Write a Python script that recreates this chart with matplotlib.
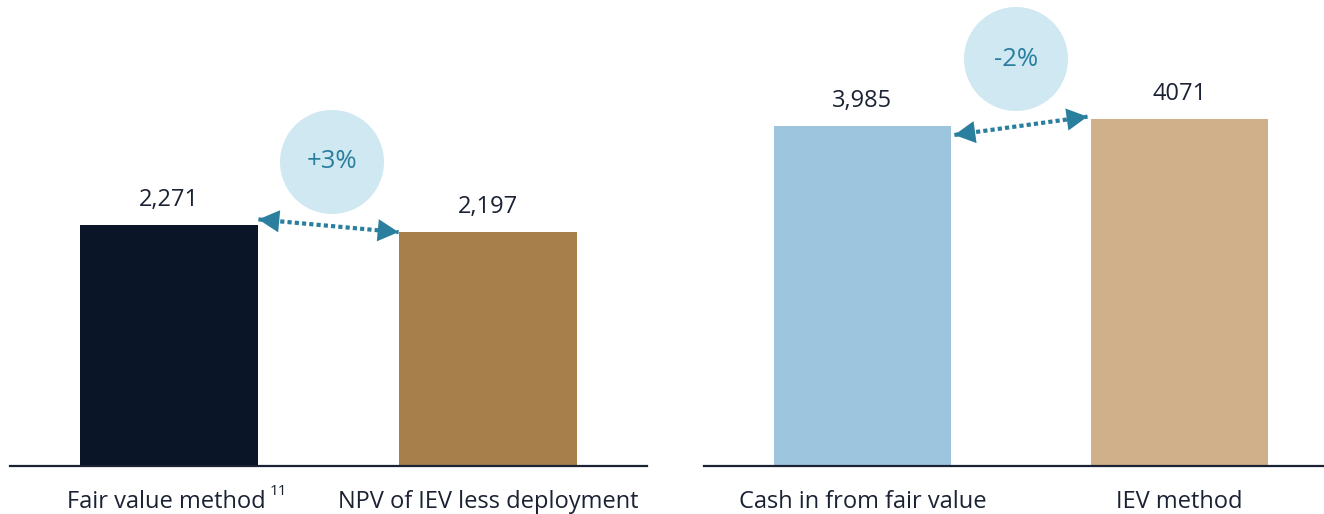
import matplotlib
matplotlib.use("Agg")
import matplotlib.pyplot as plt
from matplotlib.patches import Circle, FancyArrowPatch

plt.rcParams['font.family'] = ['Open Sans', 'DejaVu Sans']

left_categories = ["Fair value method", "NPV of IEV less deployment"]
left_values = [2271, 2197]
left_labels = ["2,271", "2,197"]
left_colors = ["#0a1628", "#a67f4a"]
left_change = "+3%"

right_categories = ["Cash in from fair value", "IEV method"]
right_values = [3985, 4071]
right_labels = ["3,985", "4071"]
right_colors = ["#9ec5de", "#cfb08a"]
right_change = "-2%"

footnote = "11"

W, H, DPI = 1324, 514, 100
fig = plt.figure(figsize=(W / DPI, H / DPI), dpi=DPI)

txt_col = "#1a2233"
acc = "#2a7f9e"
bub = "#cfe8f1"

def px_axes(x0, x1, ybot, ytop):
    return fig.add_axes([x0 / W, 1 - ybot / H, (x1 - x0) / W, (ybot - ytop) / H])

axL = px_axes(10, 647, 466, 0)
axR = px_axes(704, 1324, 466, 0)

def draw(ax, cats, vals, labs, cols, ymax, xmax):
    x = list(range(len(cats)))
    ax.bar(x, vals, width=0.56, color=cols, zorder=2)
    ax.set_xlim(-0.5, xmax)
    ax.set_ylim(0, ymax)
    for s in ["top", "right", "left"]:
        ax.spines[s].set_visible(False)
    ax.spines["bottom"].set_color(txt_col)
    ax.spines["bottom"].set_linewidth(1.6)
    ax.set_yticks([])
    ax.set_xticks([])
    for xi, v, l in zip(x, vals, labs):
        ax.annotate(l, (xi, v), xytext=(0, 25), textcoords="offset pixels",
                    ha="center", va="center", fontsize=17, color=txt_col)
    texts = []
    for xi, c in zip(x, cats):
        t = ax.annotate(c, (xi, 0), xytext=(0, -36), textcoords="offset pixels",
                        ha="center", va="center", fontsize=17, color=txt_col,
                        annotation_clip=False)
        texts.append(t)
    return texts

tL = draw(axL, left_categories, left_values, left_labels, left_colors, 4384, 1.5)
tR = draw(axR, right_categories, right_values, right_labels, right_colors, 5469, 1.456)

# shift first label and add superscript
tL[0].xyann = (-3, -36)
fig.canvas.draw()
bb = tL[0].get_window_extent()
fig.text((bb.x1 + 4) / W, (bb.y1 + 6) / H, footnote, fontsize=11, color=txt_col,
         ha="left", va="top")

def arrow(ax, p0, p1):
    ax.plot([p0[0], p1[0]], [p0[1], p1[1]], color=acc, linewidth=3,
            linestyle=(0, (1, 0.75)), solid_capstyle="butt", dash_capstyle="butt",
            zorder=3)
    for a, b in ((p0, p1), (p1, p0)):
        fx = a[0] + (b[0] - a[0]) * 0.9
        fy = a[1] + (b[1] - a[1]) * 0.9
        h = FancyArrowPatch((fx, fy), b, arrowstyle="-|>,head_length=0.75,head_width=0.4",
                            mutation_scale=20, color=acc, linewidth=0,
                            shrinkA=0, shrinkB=0, zorder=4)
        ax.add_patch(h)

arrow(axL, (0.28, 2320), (0.72, 2200))
arrow(axR, (0.29, 3885), (0.71, 4100))

def bubble(cx, cy, r, s):
    c = Circle((cx / DPI, (H - cy) / DPI), r / DPI, transform=fig.dpi_scale_trans,
               facecolor=bub, edgecolor="none", zorder=5)
    fig.add_artist(c)
    fig.text(cx / W, 1 - cy / H, s, ha="center", va="center", fontsize=18.5,
             color=acc, zorder=6)

bubble(332, 162, 52, left_change)
bubble(1016, 59, 52, right_change)

fig.savefig("out.png", dpi=DPI)
